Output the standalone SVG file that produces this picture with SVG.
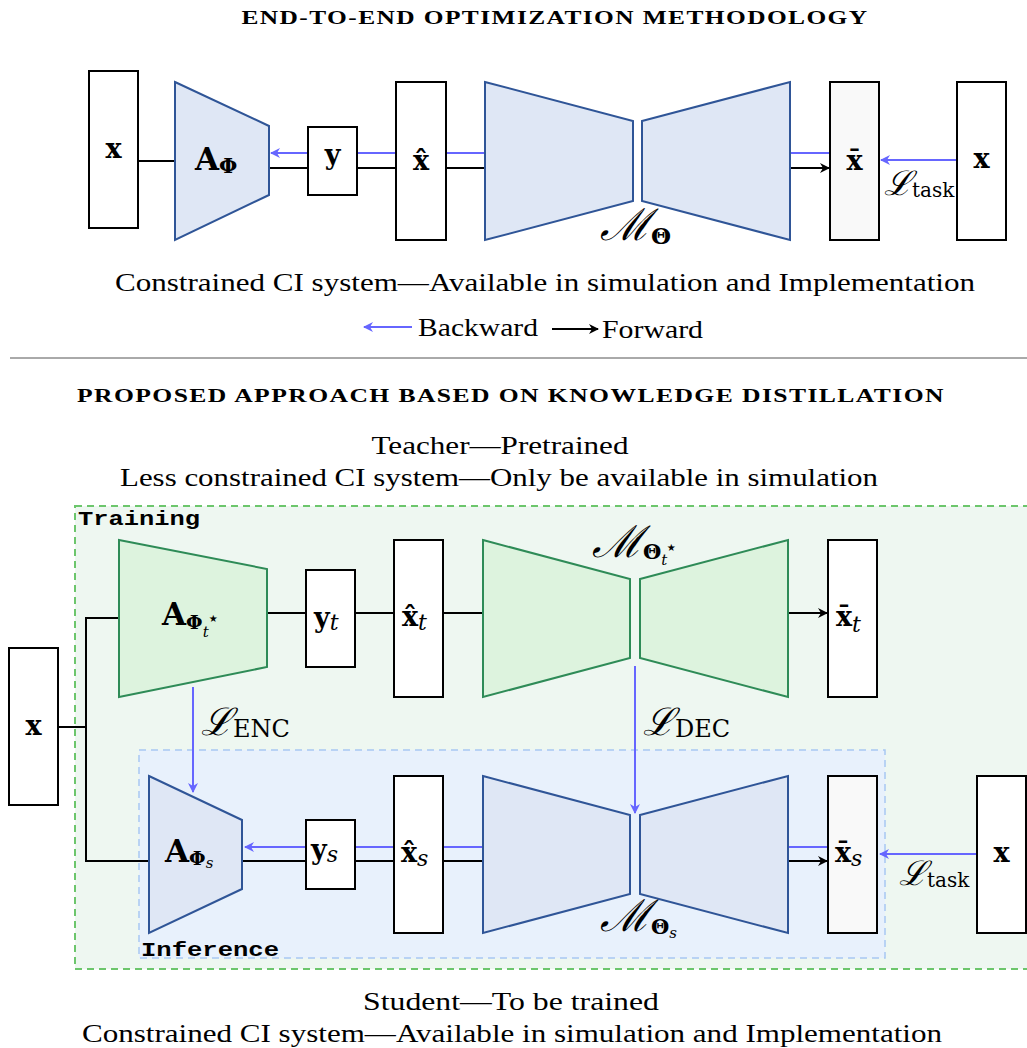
<svg xmlns="http://www.w3.org/2000/svg" width="1027" height="1048" viewBox="0 0 1027 1048">
<defs>
<marker id="ab" viewBox="0 0 10 10" refX="9" refY="5" markerWidth="5" markerHeight="5" orient="auto"><path d="M0,0 L10,5 L0,10 L3,5 Z" fill="#6666ff"/></marker>
<marker id="ak" viewBox="0 0 10 10" refX="9" refY="5" markerWidth="5" markerHeight="5" orient="auto"><path d="M0,0 L10,5 L0,10 L3,5 Z" fill="#000"/></marker>
</defs>
<style>
.box{fill:#fff;stroke:#000;stroke-width:2}
.boxg{fill:#f9f9f9;stroke:#000;stroke-width:2}
.tb{fill:#dfe7f5;stroke:#2f5597;stroke-width:2}
.tg{fill:#ddf3de;stroke:#2e8b57;stroke-width:2}
.k{stroke:#000;stroke-width:2;fill:none}
.b{stroke:#6666ff;stroke-width:2;fill:none}
.m{font-family:"DejaVu Serif","Liberation Serif",serif;fill:#000}
.mb{font-family:"DejaVu Serif","Liberation Serif",serif;font-weight:bold;fill:#000}
.cap{font-family:"Liberation Serif","DejaVu Serif",serif;font-size:26px;fill:#000}
.ttl{font-family:"Liberation Serif",serif;font-weight:bold;font-size:18px;fill:#000;letter-spacing:1px}
.mono{font-family:"Liberation Mono","DejaVu Sans Mono",monospace;font-weight:bold;font-size:21px;fill:#000}
</style>

<text class="ttl" x="555" y="24" text-anchor="middle" textLength="627" lengthAdjust="spacingAndGlyphs">END-TO-END OPTIMIZATION METHODOLOGY</text>

<g id="connectors-top">
<line class="k" x1="138" y1="161" x2="175" y2="161"/>
<line class="k" x1="269" y1="168" x2="308" y2="168"/>
<line class="b" x1="308" y1="153" x2="271" y2="153" marker-end="url(#ab)"/>
<line class="k" x1="357" y1="168" x2="396" y2="168"/>
<line class="b" x1="357" y1="153" x2="396" y2="153"/>
<line class="k" x1="446" y1="168" x2="485" y2="168"/>
<line class="b" x1="446" y1="153" x2="485" y2="153"/>
<line class="b" x1="790" y1="153" x2="830" y2="153"/>
<line class="k" x1="790" y1="168" x2="829" y2="168" marker-end="url(#ak)"/>
<line class="b" x1="957" y1="160" x2="881" y2="160" marker-end="url(#ab)"/>
</g>

<g id="top-x"><rect class="box" x="89" y="71" width="49" height="157"/><text class="mb" x="113.5" y="158" font-size="27" text-anchor="middle">x</text></g>
<g id="top-A"><polygon class="tb" points="175,82 269,126 269,195 175,240"/><text class="mb" x="195" y="170" font-size="31">A<tspan font-size="21" dy="3">Φ</tspan></text></g>
<g id="top-y"><rect class="box" x="308" y="127" width="49" height="68"/><text class="mb" x="332.5" y="164" font-size="27" text-anchor="middle">y</text></g>
<g id="top-xhat"><rect class="box" x="396" y="82" width="50" height="158"/><text class="mb" x="421" y="170" font-size="27" text-anchor="middle">x̂</text></g>
<g id="top-M"><polygon class="tb" points="485,82 633,121 633,201 485,240"/><polygon class="tb" points="642,121 790,82 790,240 642,201"/><text class="m" x="600" y="240" font-size="44" font-style="italic">ℳ<tspan class="mb" font-size="23" font-style="normal" dy="4">Θ</tspan></text></g>
<g id="top-xbar"><rect class="boxg" x="830" y="82" width="49" height="158"/><text class="mb" x="854.5" y="170" font-size="27" text-anchor="middle">x̄</text></g>
<g id="top-xr"><rect class="box" x="957" y="82" width="49" height="158"/><text class="mb" x="981.5" y="168" font-size="27" text-anchor="middle">x</text></g>
<text class="m" x="884" y="195" font-size="34" font-style="italic">ℒ<tspan font-style="normal" font-size="20" dy="2">task</tspan></text>

<text class="cap" x="545" y="291" text-anchor="middle" textLength="860" lengthAdjust="spacingAndGlyphs">Constrained CI system—Available in simulation and Implementation</text>

<g id="legend">
<line class="b" x1="412" y1="327" x2="364" y2="327" marker-end="url(#ab)"/>
<text class="cap" x="418" y="336" textLength="120" lengthAdjust="spacingAndGlyphs">Backward</text>
<line class="k" x1="552" y1="329" x2="598" y2="329" marker-end="url(#ak)"/>
<text class="cap" x="602" y="338" textLength="101" lengthAdjust="spacingAndGlyphs">Forward</text>
</g>

<line x1="10" y1="358" x2="1027" y2="358" stroke="#555" stroke-width="1"/>

<text class="ttl" x="511" y="402" text-anchor="middle" textLength="868" lengthAdjust="spacingAndGlyphs">PROPOSED APPROACH BASED ON KNOWLEDGE DISTILLATION</text>
<text class="cap" x="500" y="454" text-anchor="middle" textLength="257" lengthAdjust="spacingAndGlyphs">Teacher—Pretrained</text>
<text class="cap" x="499" y="486" text-anchor="middle" textLength="758" lengthAdjust="spacingAndGlyphs">Less constrained CI system—Only be available in simulation</text>

<g id="training-region"><rect x="75" y="506" width="960" height="463" fill="#eef7f1" stroke="#6cc66c" stroke-width="2" stroke-dasharray="7,5"/><text class="mono" x="78" y="525" textLength="122" lengthAdjust="spacingAndGlyphs">Training</text></g>
<g id="inference-region"><rect x="139" y="750" width="746" height="208" fill="#e8f1fc" stroke="#a8c8f2" stroke-width="1.5" stroke-dasharray="7,5"/><text class="mono" x="141" y="956" textLength="138" lengthAdjust="spacingAndGlyphs">Inference</text></g>

<g id="connectors">
<polyline class="k" points="58,727 86,727"/>
<polyline class="k" points="119,618 86,618 86,861 149,861"/>
<line class="k" x1="267" y1="613" x2="306" y2="613"/>
<line class="k" x1="355" y1="613" x2="394" y2="613"/>
<line class="k" x1="443" y1="613" x2="483" y2="613"/>
<line class="k" x1="788" y1="613" x2="827" y2="613" marker-end="url(#ak)"/>
<line class="b" x1="193" y1="687" x2="193" y2="792" marker-end="url(#ab)"/>
<line class="b" x1="635" y1="666" x2="635" y2="813" marker-end="url(#ab)"/>
<line class="k" x1="242" y1="861" x2="306" y2="861"/>
<line class="b" x1="306" y1="847" x2="245" y2="847" marker-end="url(#ab)"/>
<line class="k" x1="355" y1="861" x2="394" y2="861"/>
<line class="b" x1="355" y1="847" x2="394" y2="847"/>
<line class="k" x1="443" y1="861" x2="483" y2="861"/>
<line class="b" x1="443" y1="847" x2="483" y2="847"/>
<line class="b" x1="788" y1="847" x2="828" y2="847"/>
<line class="k" x1="788" y1="861" x2="827" y2="861" marker-end="url(#ak)"/>
<line class="b" x1="977" y1="854" x2="880" y2="854" marker-end="url(#ab)"/>
</g>

<text class="m" x="201" y="735" font-size="38" font-style="italic">ℒ<tspan font-style="normal" font-size="24" dy="2">ENC</tspan></text>
<text class="m" x="643" y="735" font-size="38" font-style="italic">ℒ<tspan font-style="normal" font-size="24" dy="2">DEC</tspan></text>

<g id="x-left"><rect class="box" x="9" y="648" width="49" height="157"/><text class="mb" x="33.5" y="735" font-size="27" text-anchor="middle">x</text></g>

<g id="A-teacher"><polygon class="tg" points="119,540 267,569 267,667 119,697"/><text class="mb" x="162" y="625" font-size="31">A<tspan font-size="19" dy="4">Φ</tspan><tspan class="m" font-weight="normal" font-style="italic" font-size="15" dy="8">t</tspan><tspan class="m" font-weight="normal" font-size="20" dx="-2" dy="-12">⋆</tspan></text></g>
<g id="y-teacher"><rect class="box" x="306" y="570" width="49" height="97"/><text class="mb" x="314" y="627" font-size="27">y<tspan class="m" font-weight="normal" font-style="italic" font-size="22" dy="3">t</tspan></text></g>
<g id="xhat-teacher"><rect class="box" x="394" y="540" width="49" height="157"/><text class="mb" x="402" y="626" font-size="27">x̂<tspan class="m" font-weight="normal" font-style="italic" font-size="22" dy="4">t</tspan></text></g>
<g id="M-teacher"><polygon class="tg" points="483,540 630,579 630,658 483,697"/><polygon class="tg" points="640,579 788,540 788,697 640,658"/><text class="m" x="592" y="557" font-size="44" font-style="italic">ℳ<tspan class="mb" font-size="21" font-style="normal" dy="2">Θ</tspan><tspan font-size="15" dy="6">t</tspan><tspan font-style="normal" font-size="20" dx="-2" dy="-11">⋆</tspan></text></g>
<g id="xbar-teacher"><rect class="box" x="828" y="540" width="49" height="157"/><text class="mb" x="836" y="626" font-size="27">x̄<tspan class="m" font-weight="normal" font-style="italic" font-size="22" dy="6">t</tspan></text></g>

<g id="A-student"><polygon class="tb" points="149,776 242,820 242,889 149,933"/><text class="mb" x="165" y="862" font-size="31">A<tspan font-size="19" dy="3">Φ</tspan><tspan class="m" font-weight="normal" font-style="italic" font-size="15" dy="3">s</tspan></text></g>
<g id="y-student"><rect class="box" x="306" y="820" width="49" height="69"/><text class="mb" x="311" y="859" font-size="27">y<tspan class="m" font-weight="normal" font-style="italic" font-size="22" dy="3">s</tspan></text></g>
<g id="xhat-student"><rect class="box" x="394" y="776" width="49" height="157"/><text class="mb" x="401" y="862" font-size="27">x̂<tspan class="m" font-weight="normal" font-style="italic" font-size="22" dy="4">s</tspan></text></g>
<g id="M-student"><polygon class="tb" points="483,776 630,815 630,894 483,933"/><polygon class="tb" points="640,815 788,776 788,933 640,894"/><text class="m" x="600" y="931" font-size="44" font-style="italic">ℳ<tspan class="mb" font-size="21" font-style="normal" dy="3">Θ</tspan><tspan font-size="15" dy="4">s</tspan></text></g>
<g id="xbar-student"><rect class="boxg" x="828" y="776" width="49" height="157"/><text class="mb" x="835" y="862" font-size="27">x̄<tspan class="m" font-weight="normal" font-style="italic" font-size="22" dy="4">s</tspan></text></g>
<g id="x-right"><rect class="box" x="977" y="776" width="49" height="157"/><text class="mb" x="1001.5" y="862" font-size="27" text-anchor="middle">x</text></g>
<text class="m" x="899" y="885" font-size="34" font-style="italic">ℒ<tspan font-style="normal" font-size="20" dy="2">task</tspan></text>

<text class="cap" x="511" y="1010" text-anchor="middle" textLength="296" lengthAdjust="spacingAndGlyphs">Student—To be trained</text>
<text class="cap" x="512" y="1042" text-anchor="middle" textLength="860" lengthAdjust="spacingAndGlyphs">Constrained CI system—Available in simulation and Implementation</text>
</svg>
